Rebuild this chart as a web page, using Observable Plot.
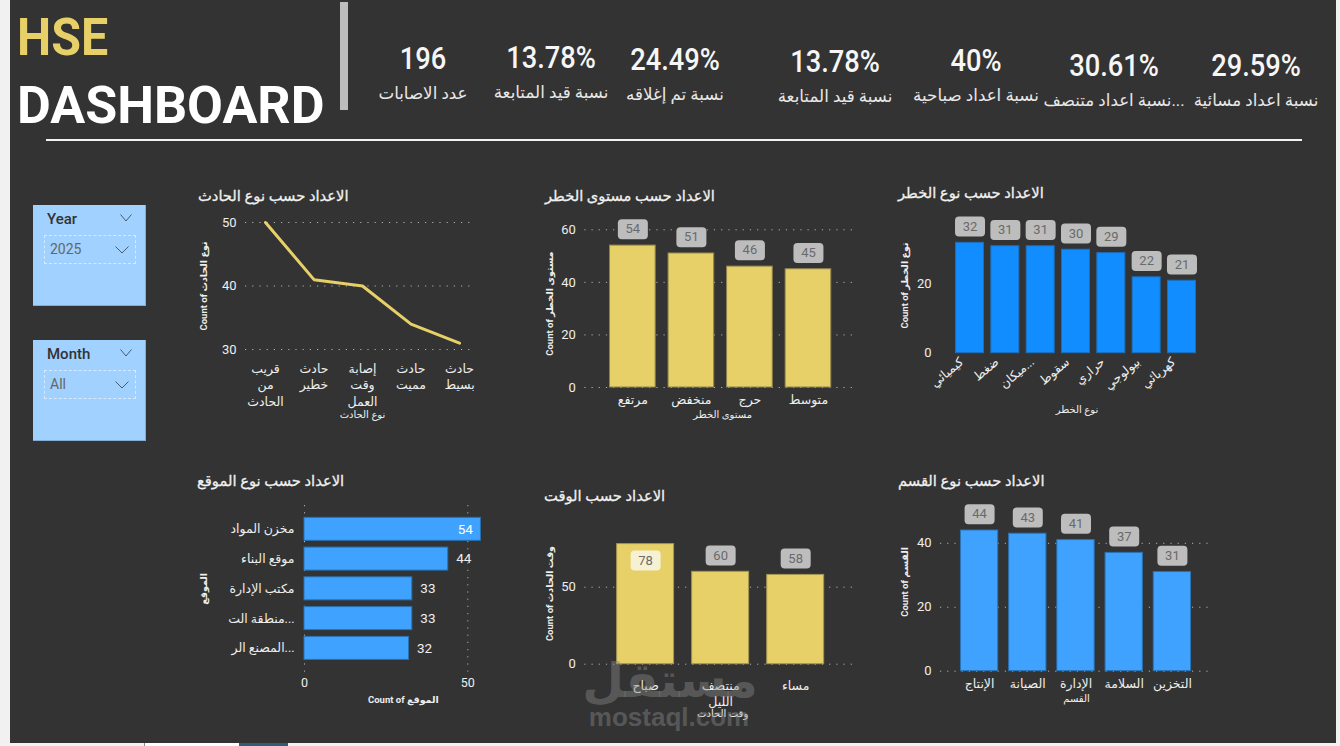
<!DOCTYPE html>
<html lang="ar">
<head>
<meta charset="utf-8">
<script src="https://cdn.jsdelivr.net/npm/d3@7"></script>
<script src="https://cdn.jsdelivr.net/npm/@observablehq/plot@0.6"></script>
<style>
html,body{margin:0;padding:0;width:1340px;height:746px;overflow:hidden;background:#f1f1f1;font-family:Roboto,"DejaVu Sans",sans-serif;}
#panel{position:absolute;left:10px;top:0;width:1326px;height:743px;background:#333333;}
.strip{position:absolute;top:743px;height:3px;}
.abs{position:absolute;white-space:nowrap;}
.kv{color:#f6f6f6;font-size:31px;font-weight:500;transform:translate(-50%,-50%) scaleX(.88);line-height:1;}
.kl{color:#e8e8e8;font-size:16.7px;transform:translate(-50%,-50%);line-height:1;direction:ltr;}
.ct{color:#f0f0f0;font-size:15px;font-weight:400;-webkit-text-stroke:.3px #f0f0f0;transform-origin:left center;transform:translateY(-50%) scaleX(.98);line-height:1;}
.plot{position:absolute;}
.plot svg{display:block;overflow:visible;}
.slicer{position:absolute;width:112px;height:100px;background:#A0D1FF;border:1px solid #84add6;border-width:0 1px 1px 0;}
.slicer .h{position:absolute;left:14px;top:5px;font-size:15px;font-weight:500;color:#333;}
.slicer .box{position:absolute;left:11px;top:30px;width:90px;height:27px;border:1px dashed #d7e9fb;}
.slicer .v{position:absolute;left:5px;top:5px;font-size:14px;color:#666;}
.slicer svg{position:absolute;}
.wm{color:rgba(135,135,135,.46);font-weight:700;pointer-events:none;}
</style>
</head>
<body>
<div id="panel"></div>
<div class="strip" style="left:0;width:144px;background:#f1f1f1"></div>
<div class="strip" style="left:144px;width:1px;background:#8a8a8a"></div>
<div class="strip" style="left:145px;width:94px;background:#ffffff"></div>
<div class="strip" style="left:239px;width:49px;background:#2f5f73"></div>
<div id="root"></div>
<script>
// ---- data ----
const headline = ["HSE", "DASHBOARD"];
const kpiValues = ["196", "13.78%", "24.49%", "13.78%", "40%", "30.61%", "29.59%"];
const kpiLabels = ["عدد الاصابات", "نسبة قيد المتابعة", "نسبة تم إغلاقه", "نسبة قيد المتابعة", "نسبة اعداد صباحية", "نسبة اعداد متنصف...", "نسبة اعداد مسائية"];

const incidentTypes = ["قريب\nمن\nالحادث", "حادث\nخطير", "إصابة\nوقت\nالعمل", "حادث\nمميت", "حادث\nبسيط"];
const incidentCounts = [50, 41, 40, 34, 31];

const riskLevels = ["مرتفع", "منخفض", "حرج", "متوسط"];
const riskLevelCounts = [54, 51, 46, 45];

const riskTypes = ["كيميائي", "ضغط", "ميكان...", "سقوط", "حراري", "بيولوجي", "كهربائي"];
const riskTypeCounts = [32, 31, 31, 30, 29, 22, 21];

const locations = ["مخزن المواد", "موقع البناء", "مكتب الإدارة", "منطقة الت...", "المصنع الر..."];
const locationCounts = [54, 44, 33, 33, 32];

const shifts = ["صباح", "منتصف\nالليل", "مساء"];
const shiftCounts = [78, 60, 58];

const departments = ["الإنتاج", "الصيانة", "الإدارة", "السلامة", "التخزين"];
const departmentCounts = [44, 43, 41, 37, 31];

const YELLOW = "#E6D067", BLUE1 = "#118DFF", BLUE2 = "#40A2FF";
const FONT = 'Roboto,"DejaVu Sans",sans-serif';
const root = document.getElementById("root");

function html(cls, left, top, text, style = "") {
  const d = document.createElement("div");
  d.className = "abs " + cls;
  d.style.cssText = `left:${left}px;top:${top}px;${style}`;
  d.textContent = text;
  root.appendChild(d);
  return d;
}
function place(svg, left, top) {
  const w = document.createElement("div");
  w.className = "plot";
  w.style.cssText = `left:${left}px;top:${top}px`;
  w.appendChild(svg);
  root.appendChild(w);
}
const rows = (k, v) => k.map((c, i) => ({c, v: v[i]}));

// rounded label plate, fixed pixel size, drawn through a Plot dot symbol
const plate = {
  draw(ctx) {
    const w = 15, h = 10, r = 4;
    ctx.moveTo(-w + r, -h);
    ctx.arcTo(w, -h, w, h, r);
    ctx.arcTo(w, h, -w, h, r);
    ctx.arcTo(-w, h, -w, -h, r);
    ctx.arcTo(-w, -h, w, -h, r);
    ctx.closePath();
  }
};
const grid = (o = {}) => ({stroke: "#cfcfcf", strokeOpacity: 0.8, strokeDasharray: "1.2 6", strokeWidth: 1, ...o});
const axisTitle = (text, o) => Plot.text([text], {fill: "#eeeeee", fontSize: 9.5, fontWeight: 700, ...o});
const yTitle = (text, dx, dy = 0) => axisTitle(text, {frameAnchor: "left", textAnchor: "middle", rotate: -90, dx, dy});
const xTitle = (text, dy, dx = 0, o = {}) => axisTitle(text, {frameAnchor: "bottom", dy, dx, fontWeight: 400, fontSize: 10, ...o});

function columnChart({data, fill, stroke, left, top, width, height, ml, mr, mt, mb, yMax, ticks, pI, pO, showGrid = true, yT, xT, inside = [], xAxis = {}}) {
  const above = data.filter(d => !inside.includes(d.c));
  const within = data.filter(d => inside.includes(d.c));
  const svg = Plot.plot({
    width, height, marginLeft: ml, marginRight: mr, marginTop: mt, marginBottom: mb,
    style: {background: "transparent", color: "#eeeeee", fontFamily: FONT, fontSize: "12px", overflow: "visible"},
    x: {domain: data.map(d => d.c), paddingInner: pI, paddingOuter: pO, round: false, axis: null, label: null},
    y: {domain: [0, yMax], axis: null, label: null},
    marks: [
      showGrid ? Plot.gridY(ticks, grid()) : null,
      Plot.axisY(ticks, {anchor: "left", tickSize: 0, tickPadding: 9, fontSize: 13, label: null, fill: "#eeeeee"}),
      Plot.axisX(data.map(d => d.c), {anchor: "bottom", tickSize: 0, tickPadding: 5, fontSize: 12.5, lineHeight: 1.3, label: null, fill: "#eeeeee", ...xAxis}),
      Plot.barY(data, {x: "c", y: "v", fill, stroke, strokeWidth: 1}),
      Plot.dot(above, {x: "c", y: "v", symbol: plate, fill: "#BDBDBD", stroke: "none", dy: -16.3}),
      Plot.dot(within, {x: "c", y: "v", symbol: plate, fill: "#F6F1D3", stroke: "none", dy: 16.3}),
      Plot.text(above, {x: "c", y: "v", text: "v", dy: -16.3, fill: "#6a6a6a", fontSize: 13}),
      Plot.text(within, {x: "c", y: "v", text: "v", dy: 16.3, fill: "#6a6a6a", fontSize: 13}),
      yTitle(yT[0], yT[1], yT[2]),
      xTitle(xT[0], xT[1], xT[2] || 0)
    ]
  });
  place(svg, left, top);
}

// ---- header ----
html("", 17, 11, headline[0], `font-size:52px;font-weight:700;color:${YELLOW};line-height:54px;transform-origin:left center;transform:scaleX(.93)`);
html("", 17, 79, headline[1], `font-size:52px;font-weight:700;color:#ffffff;line-height:54px;`);
html("", 340, 2, "", "width:8px;height:108px;background:#BDBDBD");
html("", 46, 138.5, "", "width:1256px;height:2px;background:#f2f2f2");
const kpiX = [423, 551, 675, 835, 976, 1114, 1256];
const kpiY = [58, 57, 59, 61, 60, 65, 65];
kpiValues.forEach((v, i) => {
  html("kv", kpiX[i], kpiY[i], v);
  html("kl", kpiX[i], kpiY[i] + 35.5, kpiLabels[i]);
});

// ---- slicers ----
function slicer(top, head, val) {
  const s = document.createElement("div");
  s.className = "slicer";
  s.style.cssText = `left:33px;top:${top}px`;
  const chev = (x, y, w) => `<svg style="left:${x}px;top:${y}px" width="${w}" height="8" viewBox="0 0 ${w} 8"><polyline points="0.5,0.5 ${w/2},7 ${w-0.5},0.5" fill="none" stroke="#4c5b6b" stroke-width="1"/></svg>`;
  s.innerHTML = `<div class="h">${head}</div>${chev(87, 9, 12)}<div class="box"><div class="v">${val}</div>${chev(70, 10, 14)}</div>`;
  root.appendChild(s);
}
slicer(204.5, "Year", "2025");
slicer(339.5, "Month", "All");

// ---- chart titles ----
html("ct", 198, 196, "الاعداد حسب نوع الحادث");
html("ct", 545, 196, "الاعداد حسب مستوى الخطر");
html("ct", 898, 193, "الاعداد حسب نوع الخطر");
html("ct", 197, 481, "الاعداد حسب نوع الموقع");
html("ct", 544, 496, "الاعداد حسب الوقت");
html("ct", 898, 481, "الاعداد حسب نوع القسم");

// ---- line: incident type ----
place(Plot.plot({
  width: 300, height: 225, marginLeft: 55, marginRight: 15, marginTop: 17, marginBottom: 81,
  style: {background: "transparent", color: "#eeeeee", fontFamily: FONT, fontSize: "12px", overflow: "visible"},
  x: {type: "point", domain: incidentTypes, padding: 0.371, align: 0.556, round: false, axis: null, label: null},
  y: {domain: [30, 50], axis: null, label: null},
  marks: [
    Plot.gridY([30, 40, 50], grid()),
    Plot.axisY([30, 40, 50], {anchor: "left", tickSize: 0, tickPadding: 9, fontSize: 13, label: null, fill: "#eeeeee"}),
    Plot.axisX(incidentTypes, {anchor: "bottom", tickSize: 0, tickPadding: 12, fontSize: 12.5, lineHeight: 1.3, label: null, fill: "#eeeeee"}),
    Plot.line(rows(incidentTypes, incidentCounts), {x: "c", y: "v", stroke: YELLOW, strokeWidth: 3, curve: "linear"}),
    yTitle("Count of نوع الحادث", -42),
    xTitle("نوع الحادث", 68, 2)
  ]
}), 190, 205);

// ---- column: risk level ----
columnChart({data: rows(riskLevels, riskLevelCounts), fill: YELLOW, stroke: "#8f8450",
  left: 530, top: 205, width: 340, height: 225, ml: 54.3, mr: 14, mt: 24.3, mb: 43,
  yMax: 60, ticks: [0, 20, 40, 60], pI: 0.22, pO: 0.431,
  yT: ["Count of مستوى الخطر", -34.5, -5], xT: ["مستوى الخطر", 30.7, 2]});

// ---- column: risk type ----
columnChart({data: rows(riskTypes, riskTypeCounts), fill: BLUE1, stroke: "#1a6fbd",
  left: 885, top: 205, width: 340, height: 225, ml: 55, mr: 14, mt: 37.3, mb: 77.3,
  yMax: 32, ticks: [0, 20], pI: 0.207, pO: 0.439, showGrid: false,
  yT: ["Count of نوع الخطر", -36, -12.5], xT: ["نوع الخطر", 60, 1],
  xAxis: {tickRotate: -40, tickPadding: 6, dx: -9}});

// ---- column: shift ----
columnChart({data: rows(shifts, shiftCounts), fill: YELLOW, stroke: "#a39650",
  left: 530, top: 520, width: 340, height: 205, ml: 54.3, mr: 14, mt: 23.6, mb: 61.3,
  yMax: 78, ticks: [0, 50], pI: 0.241, pO: 0.431, inside: ["صباح"],
  yT: ["Count of وقت الحادث", -34.5, -10.6], xT: ["وقت الحادث", 52.3, 2],
  xAxis: {tickPadding: 14}});

// ---- column: department ----
columnChart({data: rows(departments, departmentCounts), fill: BLUE2, stroke: "#2a72b3",
  left: 885, top: 505, width: 340, height: 205, ml: 55, mr: 14, mt: 25, mb: 39.3,
  yMax: 44, ticks: [0, 20, 40], pI: 0.226, pO: 0.424,
  yT: ["Count of القسم", -36, -19], xT: ["القسم", 30.3, 0.5]});

// ---- horizontal bars: location ----
const locData = rows(locations, locationCounts);
place(Plot.plot({
  width: 310, height: 225, marginLeft: 124, marginRight: 9.6, marginTop: 15, marginBottom: 43.3,
  style: {background: "transparent", color: "#eeeeee", fontFamily: FONT, fontSize: "12px", overflow: "visible"},
  x: {domain: [0, 54], axis: null, label: null},
  y: {domain: locations, paddingInner: 0.227, paddingOuter: 0.414, round: false, axis: null, label: null},
  marks: [
    Plot.gridX([0, 50], grid()),
    Plot.axisX([0, 50], {anchor: "bottom", tickSize: 0, tickPadding: 6, fontSize: 12.5, label: null, fill: "#eeeeee"}),
    Plot.axisY(locations, {anchor: "left", tickSize: 0, tickPadding: 10, fontSize: 12.5, label: null, fill: "#eeeeee"}),
    Plot.barX(locData, {y: "c", x: "v", fill: BLUE2, stroke: "#2a72b3", strokeWidth: 1}),
    Plot.text(locData.filter(d => d.v >= 54), {y: "c", x: "v", text: "v", textAnchor: "end", dx: -8, fill: "#ffffff", fontSize: 13.5}),
    Plot.text(locData.filter(d => d.v < 54), {y: "c", x: "v", text: "v", textAnchor: "start", dx: 8, fill: "#eeeeee", fontSize: 13.5}),
    yTitle("الموقع", -101),
    xTitle("Count of الموقع", 30.3, 10.7, {fontWeight: 700, fontSize: 9.5})
  ]
}), 180, 490);

// ---- watermark ----
html("wm", 670, 680, "مستقل", "font-size:48px;line-height:1;transform:translate(-50%,-50%);font-family:'DejaVu Sans',sans-serif;");
html("wm", 669, 717, "mostaql.com", "font-size:26px;line-height:1;transform:translate(-50%,-50%);font-family:'Liberation Sans',sans-serif;");
</script>
</body>
</html>
